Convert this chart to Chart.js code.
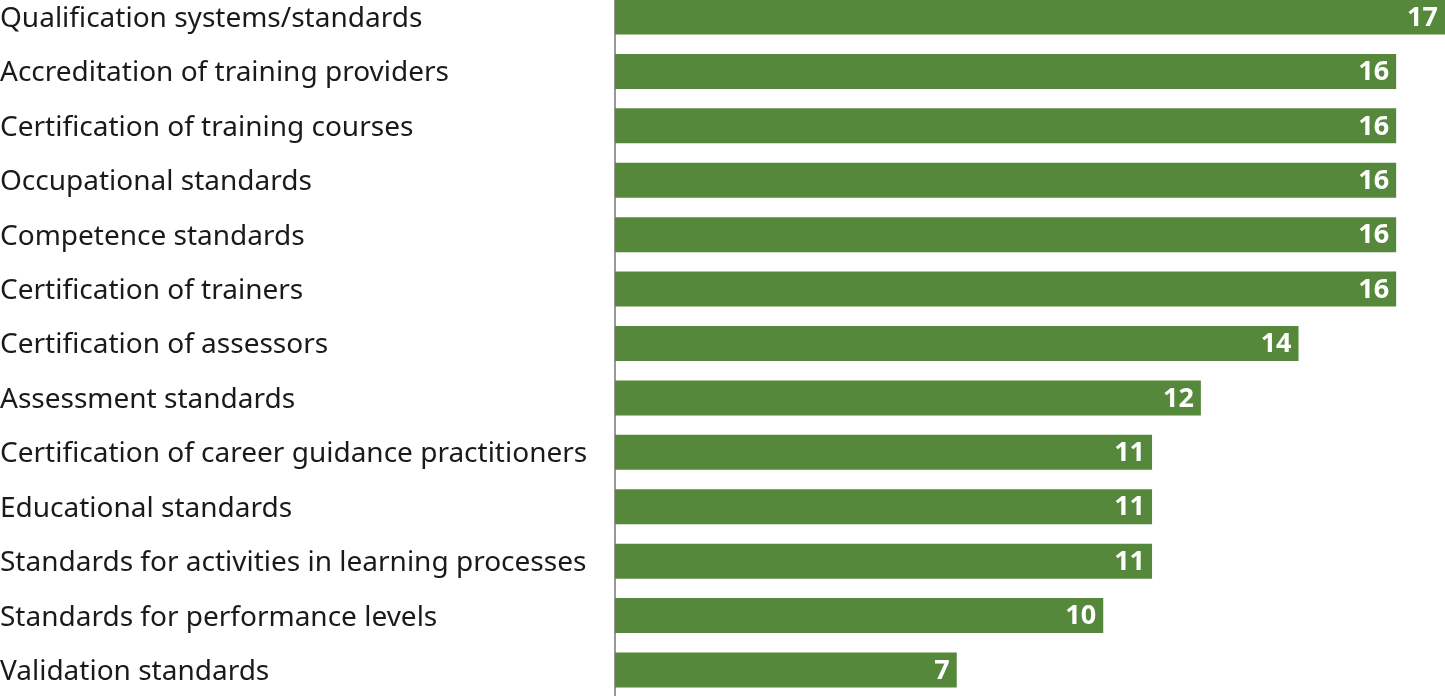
<!DOCTYPE html>
<html lang="en">
<head>
    <meta charset="UTF-8">
    <title>Standards</title>
    <script src="https://cdn.jsdelivr.net/npm/chart.js"></script>
    <style>
        html, body { margin: 0; padding: 0; background: #fff; overflow: hidden; }
        .chart-container {
            position: relative;
            width: 1445px;
            height: 741px;
            margin-top: -27px;
        }
    </style>
</head>
<body>
    <div class="chart-container">
        <canvas id="standardsChart"></canvas>
    </div>

    <script>
        const categories = [
            'Qualification systems/standards',
            'Accreditation of training providers',
            'Certification of training courses',
            'Occupational standards',
            'Competence standards',
            'Certification of trainers',
            'Certification of assessors',
            'Assessment standards',
            'Certification of career guidance practitioners',
            'Educational standards',
            'Standards for activities in learning processes',
            'Standards for performance levels',
            'Validation standards'
        ];
        const counts = [17, 16, 16, 16, 16, 16, 14, 12, 11, 11, 11, 10, 7];

        // white value labels at the end of each bar
        const valueLabels = {
            id: 'valueLabels',
            afterDatasetsDraw(chart) {
                const ctx = chart.ctx;
                const meta = chart.getDatasetMeta(0);
                ctx.save();
                ctx.font = 'bold 27px "Noto Sans"';
                ctx.fillStyle = '#ffffff';
                ctx.textAlign = 'right';
                ctx.textBaseline = 'middle';
                meta.data.forEach((bar, i) => {
                    ctx.fillText(String(counts[i]), bar.x - 7, bar.y + 1);
                });
                ctx.restore();
            }
        };

        const ctx = document.getElementById('standardsChart').getContext('2d');
        new Chart(ctx, {
            type: 'bar',
            data: {
                labels: categories,
                datasets: [{
                    data: counts,
                    backgroundColor: '#55883b',
                    barPercentage: 0.643,
                    categoryPercentage: 1
                }]
            },
            options: {
                indexAxis: 'y',
                responsive: true,
                maintainAspectRatio: false,
                animation: false,
                layout: { padding: 0 },
                plugins: {
                    legend: { display: false },
                    tooltip: { enabled: false }
                },
                scales: {
                    x: {
                        display: false,
                        min: 0,
                        max: 17
                    },
                    y: {
                        grid: { display: false, drawTicks: false },
                        border: { display: true, color: '#999999', width: 2 },
                        ticks: {
                            crossAlign: 'far',
                            padding: 0,
                            labelOffset: 2,
                            color: '#1a1a1a',
                            font: { family: 'Noto Sans', size: 28 }
                        },
                        afterFit(scale) {
                            scale.width = 615;
                        }
                    }
                }
            },
            plugins: [valueLabels]
        });
    </script>
</body>
</html>
